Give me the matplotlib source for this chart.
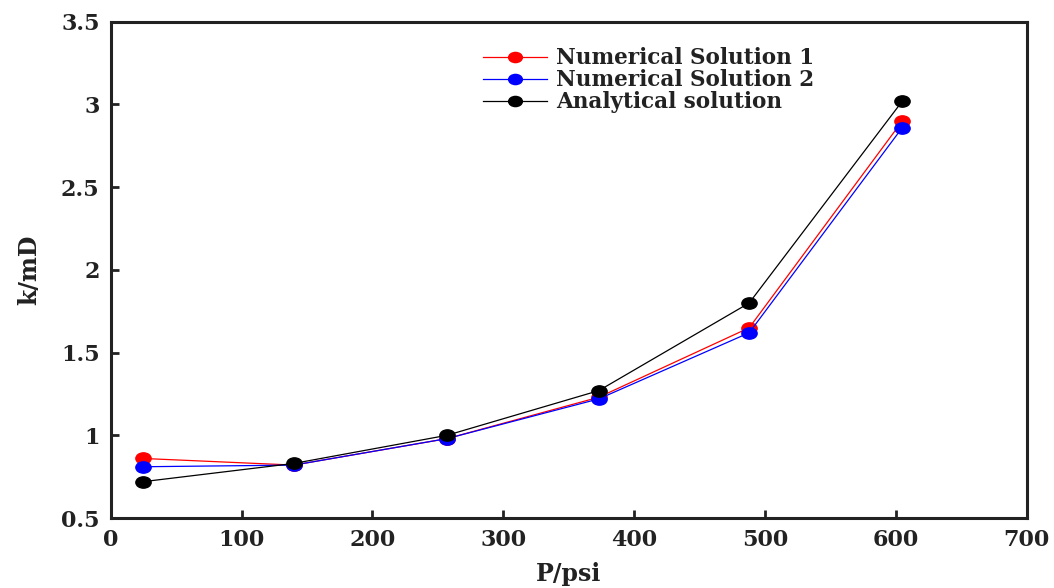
import matplotlib
matplotlib.use("Agg")
import matplotlib.pyplot as plt
from matplotlib.path import Path
from matplotlib.transforms import Affine2D

plt.rcParams['font.family'] = ['DejaVu Serif', 'Liberation Serif']
plt.rcParams['font.weight'] = 'bold'

pressure = [25, 140, 257, 373, 488, 605]
num1 = [0.86, 0.82, 0.98, 1.23, 1.65, 2.90]
num2 = [0.81, 0.82, 0.98, 1.22, 1.62, 2.86]
analytical = [0.72, 0.83, 1.00, 1.27, 1.80, 3.02]
labels = ["Numerical Solution 1", "Numerical Solution 2", "Analytical solution"]
xticks = [0, 100, 200, 300, 400, 500, 600, 700]
yticks = [0.5, 1, 1.5, 2, 2.5, 3, 3.5]
ytick_labels = ["0.5", "1", "1.5", "2", "2.5", "3", "3.5"]

# slightly wide elliptical marker (reference looks horizontally stretched)
ell = Path.unit_circle().transformed(Affine2D().scale(1.35, 1.0))

fig = plt.figure(figsize=(10.54, 5.88), dpi=100)
ax = fig.add_axes([0.105, 0.119, 0.869, 0.844])

ms = 11
ax.plot(pressure, num1, color='red', marker=ell, markersize=ms, lw=0.9, label=labels[0])
ax.plot(pressure, num2, color='blue', marker=ell, markersize=ms, lw=0.9, label=labels[1])
ax.plot(pressure, analytical, color='black', marker=ell, markersize=ms, lw=0.9, label=labels[2])

ax.set_xlim(0, 700)
ax.set_ylim(0.5, 3.5)
ax.set_xticks(xticks)
ax.set_yticks(yticks)
ax.set_yticklabels(ytick_labels)
ax.tick_params(direction='in', length=6, width=2, labelsize=16, top=False, right=False,
               colors='#222222')
ax.tick_params(axis='x', pad=8)
ax.tick_params(axis='y', pad=8)
for lbl in ax.get_xticklabels() + ax.get_yticklabels():
    lbl.set_fontweight('bold')
for s in ax.spines.values():
    s.set_linewidth(2.2)
    s.set_color('#222222')

ax.set_xlabel("P/psi", fontsize=17, fontweight='bold', labelpad=8, color='#222222')
ax.set_ylabel("k/mD", fontsize=17, fontweight='bold', labelpad=14, color='#222222')

leg = ax.legend(loc='upper left', bbox_to_anchor=(0.397, 0.966), frameon=False,
                prop={'family': 'DejaVu Serif', 'weight': 'bold', 'size': 15.5},
                handlelength=3.0, handletextpad=0.4, labelspacing=0.0, borderaxespad=0,
                markerscale=0.9)
for t in leg.get_texts():
    t.set_color('#222222')

fig.savefig("out.png", dpi=100)
